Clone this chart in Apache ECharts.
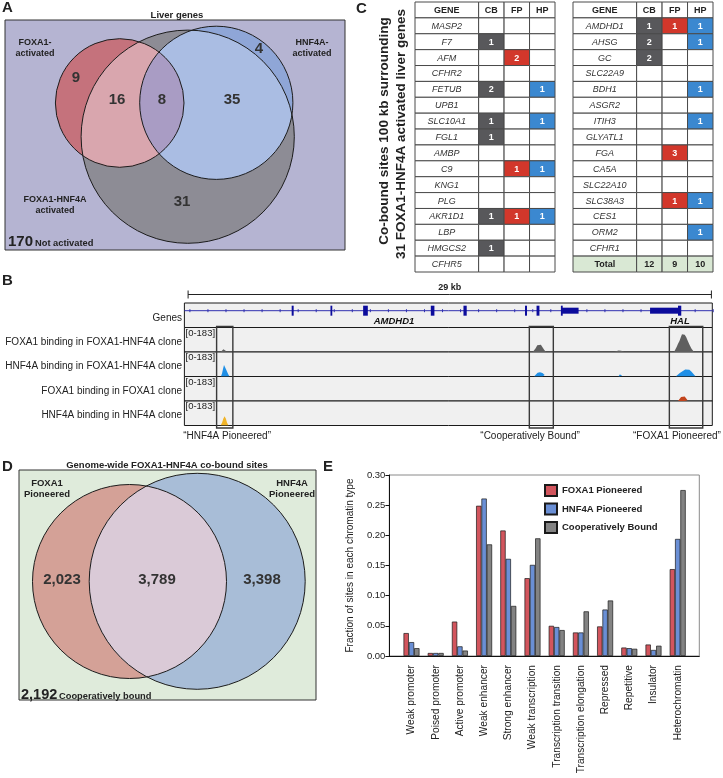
<!DOCTYPE html>
<html><head><meta charset="utf-8">
<script src="https://cdn.jsdelivr.net/npm/echarts@6/dist/echarts.min.js"></script>
<style>html,body{margin:0;padding:0;background:#fff}#c{width:723px;height:778px}</style>
</head><body><div id="c"></div>
<script>
// ================= DATA =================
// Panel A : liver genes Venn
const vennARegionNames = ['FOXA1 only', 'FOXA1 & FOXA1-HNF4A', 'all three', 'HNF4A & FOXA1-HNF4A', 'HNF4A only', 'FOXA1-HNF4A only'];
const vennACounts = [9, 16, 8, 35, 4, 31];
const vennANotActivated = 170;

// Panel C : co-bound sites tables
const tableHeader = ['GENE', 'CB', 'FP', 'HP'];
const genesLeft = ['MASP2','F7','AFM','CFHR2','FETUB','UPB1','SLC10A1','FGL1','AMBP','C9','KNG1','PLG','AKR1D1','LBP','HMGCS2','CFHR5'];
const cbLeft = [null,1,null,null,2,null,1,1,null,null,null,null,1,null,1,null];
const fpLeft = [null,null,2,null,null,null,null,null,null,1,null,null,1,null,null,null];
const hpLeft = [null,null,null,null,1,null,1,null,null,1,null,null,1,null,null,null];
const genesRight = ['AMDHD1','AHSG','GC','SLC22A9','BDH1','ASGR2','ITIH3','GLYATL1','FGA','CA5A','SLC22A10','SLC38A3','CES1','ORM2','CFHR1'];
const cbRight = [1,2,2,null,null,null,null,null,null,null,null,null,null,null,null];
const fpRight = [1,null,null,null,null,null,null,null,3,null,null,1,null,null,null];
const hpRight = [1,1,null,null,1,null,1,null,null,null,null,1,null,1,null];
const totalLabel = 'Total';
const totals = [12, 9, 10];

// Panel B : genome browser (kb)
const scaleBarKb = 29;
const trackRangeMax = 183;
const trackNames = ['FOXA1 binding in FOXA1-HNF4A clone','HNF4A binding in FOXA1-HNF4A clone','FOXA1 binding in FOXA1 clone','HNF4A binding in HNF4A clone'];
const geneExons = [[5.74,5.85],[7.89,7.99],[9.70,9.96],[13.45,13.65],[15.26,15.44],[18.67,18.78],[19.31,19.47],[20.66,20.74],[27.15,27.33]];
const geneUTRs = [[20.70,21.64],[25.60,27.15]];
const geneNames = ['AMDHD1','HAL'];
const geneNameKb = [11.41, 27.26];
const foxa1InCoClone = [[-0.2,0],[1.8,0],[1.88,8],[1.96,20],[2.04,14],[2.12,5],[2.2,0],[8.9,0],[9.0,4],[9.12,4],[9.22,0],[12.2,0],[12.3,3],[12.4,0],
  [19.1,0],[19.18,10],[19.26,28],[19.35,50],[19.45,61],[19.55,54],[19.64,36],[19.74,15],[19.84,0],[22.1,0],[22.2,3],[22.3,0],
  [23.6,0],[23.7,7],[23.85,12],[24.0,10],[24.1,5],[24.18,0],[26.0,0],[26.1,4],[26.2,0],
  [26.93,0],[27.0,12],[27.08,40],[27.15,62],[27.23,82],[27.3,108],[27.37,132],[27.44,142],[27.52,128],[27.6,112],[27.7,80],[27.8,50],[27.9,25],[28.04,0],[29.05,0]];
const hnf4aInCoClone = [[-0.2,0],[1.82,0],[1.88,22],[1.94,60],[1.99,85],[2.04,78],[2.1,55],[2.16,45],[2.23,15],[2.3,0],
  [19.17,0],[19.25,14],[19.37,28],[19.5,32],[19.64,26],[19.76,12],[19.84,0],[20.0,0],[20.06,8],[20.12,0],
  [23.85,0],[23.92,15],[23.98,20],[24.06,10],[24.14,0],[25.92,0],[25.98,8],[26.04,0],
  [27.02,0],[27.12,12],[27.25,26],[27.4,40],[27.55,52],[27.66,56],[27.78,50],[27.9,36],[28.02,16],[28.13,0],[29.05,0]];
const foxa1InFoxa1Clone = [[-0.2,0],[19.4,0],[19.46,4],[19.52,0],[27.15,0],[27.22,14],[27.32,30],[27.42,37],[27.52,33],[27.6,20],[27.68,5],[27.75,0],[29.05,0]];
const hnf4aInHnf4aClone = [[-0.2,0],[1.8,0],[1.88,20],[1.95,50],[2.02,69],[2.09,52],[2.16,20],[2.24,0],[23.9,0],[23.97,5],[24.04,0],[29.05,0]];
const regionNames = ['\u201CHNF4A Pioneered\u201D', '\u201CCooperatively Bound\u201D', '\u201CFOXA1 Pioneered\u201D'];
const regionStartKb = [1.58, 18.91, 26.67];
const regionEndKb = [2.48, 20.24, 28.52];
const regionLabelKb = [2.16, 18.95, 27.09];

// Panel D : genome-wide Venn
const vennDCounts = [2023, 3789, 3398];
const vennDOutside = 2192;

// Panel E : chromatin types
const chromatinTypes = ['Weak promoter','Poised promoter','Active promoter','Weak enhancer','Strong enhancer','Weak transcription','Transcription transition','Transcription elongation','Repressed','Repetitive','Insulator','Heterochromatin'];
const foxa1Pioneered = [0.038, 0.005, 0.057, 0.249, 0.208, 0.129, 0.050, 0.039, 0.049, 0.014, 0.019, 0.144];
const hnf4aPioneered = [0.023, 0.005, 0.016, 0.261, 0.161, 0.151, 0.048, 0.039, 0.077, 0.013, 0.010, 0.194];
const coopBound      = [0.013, 0.005, 0.009, 0.185, 0.083, 0.195, 0.043, 0.074, 0.092, 0.012, 0.017, 0.275];
const yTicks = [0, 0.05, 0.10, 0.15, 0.20, 0.25, 0.30];

// ================= LAYOUT / STYLE =================
const FONT = '"Liberation Sans", Arial, Helvetica, sans-serif';
const fnt = s => s + ' ' + FONT;
const KB_MIN = -0.205, KB_MAX = 29.05;
const vennALayout = {
  circles: [{cx:114.7, cy:83, r:64.3}, {cx:211.3, cy:82.8, r:76.6}, {cx:182.7, cy:116.7, r:106.6}],
  labels: [[71,58],[112,80],[157,80],[227,80],[254,29],[177,182]]
};
const vennDLayout = {
  circles: [{cx:110.5, cy:111.5, r:97}, {cx:178.2, cy:111.3, r:108}],
  labels: [[43,110],[138,110],[243,110]]
};
const COLS = [0, 2.5, 3.5, 4.5, 5.5];
const cellFill = {header:'#ffffff', gene:'#ffffff', empty:'#ffffff', cb:'#58585b', fp:'#d2372b', hp:'#3b88d0', total:'#d9e8d4'};
const trackColors = ['#5f5f5f','#1f8fe6','#c2441c','#f0b429'];

function arcPoints(cx, cy, r, t0, t1, through, n) {
  const TWO = Math.PI * 2;
  const norm = a => ((a % TWO) + TWO) % TWO;
  let delta = norm(t1 - t0);
  if (norm(through - t0) > delta) delta = delta - TWO;
  const pts = [];
  for (let i = 0; i <= n; i++) { const a = t0 + delta * i / n; pts.push([cx + r * Math.cos(a), cy + r * Math.sin(a)]); }
  return pts;
}
function lensPoints(c1, c2) {
  const dx = c2.x - c1.x, dy = c2.y - c1.y, d = Math.hypot(dx, dy);
  const a = (c1.r * c1.r - c2.r * c2.r + d * d) / (2 * d);
  const h = Math.sqrt(Math.max(0, c1.r * c1.r - a * a));
  const px = c1.x + a * dx / d, py = c1.y + a * dy / d;
  const i1 = [px - h * dy / d, py + h * dx / d], i2 = [px + h * dy / d, py - h * dx / d];
  const ang = (c, p) => Math.atan2(p[1] - c.y, p[0] - c.x);
  const arc1 = arcPoints(c1.x, c1.y, c1.r, ang(c1, i1), ang(c1, i2), Math.atan2(dy, dx), 90);
  const arc2 = arcPoints(c2.x, c2.y, c2.r, ang(c2, i2), ang(c2, i1), Math.atan2(-dy, -dx), 90);
  return arc1.concat(arc2);
}
function circlePx(api, c) {
  const p = api.coord([c.cx, c.cy]);
  const s = api.size([c.r, c.r]);
  return {x: p[0], y: p[1], r: s[0]};
}
function circ(c, fill, stroke) {
  return {type:'circle', shape:{cx:c.x, cy:c.y, r:c.r}, style: stroke ? {fill:'none', stroke:'#1c1c1c', lineWidth:1} : {fill}};
}
// break the signal line wherever it sits on the baseline, so only peaks are filled
function gapped(d) {
  const out = [];
  for (let i = 0; i < d.length; i++) {
    out.push(d[i]);
    if (i < d.length - 1 && d[i][1] === 0 && d[i + 1][1] === 0) out.push([d[i][0], '-']);
  }
  return out;
}

// ---- grids & axes
const grids = [], xAxes = [], yAxes = [];
function addGrid(g, x, y) {
  const gi = grids.length;
  grids.push(Object.assign({containLabel:false, outerBoundsMode:'none', show:false}, g));
  xAxes.push(Object.assign({gridIndex:gi, type:'value', show:false}, x));
  yAxes.push(Object.assign({gridIndex:gi, type:'value', show:false}, y));
  return gi;
}
const gA = addGrid({left:5, top:20, width:340, height:230, show:true, backgroundColor:'#b5b4d2', borderColor:'#333', borderWidth:1},
  {min:0, max:340}, {min:0, max:230, inverse:true});
const gT1 = addGrid({left:415, top:2, width:140, height:270}, {min:0, max:5.5}, {min:0, max:17, inverse:true});
const gT2 = addGrid({left:573, top:2, width:140, height:270}, {min:0, max:5.5}, {min:0, max:17, inverse:true});
const gScale = addGrid({left:184.4, top:287, width:527.9, height:12}, {min:KB_MIN, max:KB_MAX}, {min:0, max:1});
const gGene = addGrid({left:184.4, top:303, width:527.9, height:24.5, show:true, backgroundColor:'#f0f0f0', borderColor:'#1a1a1a', borderWidth:1},
  {min:KB_MIN, max:KB_MAX}, {min:0, max:1});
const trackTops = [327.5, 352, 376.5, 401];
const gTracks = trackTops.map(t => addGrid({left:184.4, top:t, width:527.9, height:24.5, show:true, backgroundColor:'#f0f0f0', borderColor:'#1a1a1a', borderWidth:1},
  {min:KB_MIN, max:KB_MAX}, {min:0, max:trackRangeMax}));
const gBoxes = addGrid({left:184.4, top:326.5, width:527.9, height:101.5}, {min:KB_MIN, max:KB_MAX}, {min:0, max:1});
const gD = addGrid({left:19, top:470, width:297, height:230, show:true, backgroundColor:'#dfebdb', borderColor:'#333', borderWidth:1},
  {min:0, max:297}, {min:0, max:230, inverse:true});
const gFrame = addGrid({left:389.3, top:475, width:310, height:181, show:true, borderColor:'#8a8a8a', borderWidth:1},
  {show:true, min:0, max:1, axisLine:{show:true, onZero:false, lineStyle:{color:'#111', width:1}}, axisTick:{show:false}, axisLabel:{show:false}, splitLine:{show:false}},
  {show:true, min:0, max:1, axisLine:{show:true, onZero:false, lineStyle:{color:'#111', width:1}}, axisTick:{show:false}, axisLabel:{show:false}, splitLine:{show:false}});
const gE = addGrid({left:399.4, top:475, width:290.4, height:181},
  {show:true, type:'category', data:chromatinTypes, axisLine:{show:false}, axisTick:{show:false},
    axisLabel:{interval:0, rotate:90, margin:9, fontSize:10.2, color:'#222', fontFamily:FONT}},
  {show:true, min:yTicks[0], max:yTicks[yTicks.length-1], interval:0.05, offset:10,
    axisLine:{show:false}, axisTick:{show:true, length:4, lineStyle:{color:'#111'}}, splitLine:{show:false},
    axisLabel:{formatter:v => v.toFixed(2), fontSize:9.5, color:'#222', margin:4, fontFamily:FONT},
    name:'Fraction of sites in each chromatin type', nameLocation:'middle', nameGap:34, nameRotate:90,
    nameTextStyle:{fontSize:10, color:'#222', fontFamily:FONT}});

// ---- table data
function buildTable(genes, cb, fp, hp, withTotal) {
  const d = [];
  tableHeader.forEach((h, c) => d.push({value:[c, 0], text:h, kind:'header'}));
  genes.forEach((g, i) => {
    d.push({value:[0, i + 1], text:g, kind:'gene'});
    [cb, fp, hp].forEach((arr, k) => d.push({value:[k + 1, i + 1], text: arr[i] == null ? '' : String(arr[i]), kind: arr[i] == null ? 'empty' : ['cb','fp','hp'][k]}));
  });
  if (withTotal) {
    const r = genes.length + 1;
    d.push({value:[0, r], text:totalLabel, kind:'total'});
    totals.forEach((v, k) => d.push({value:[k + 1, r], text:String(v), kind:'total'}));
  }
  return d;
}
function tableRender(data) {
  return function (params, api) {
    const it = data[params.dataIndex];
    const c = it.value[0], r = it.value[1];
    const p0 = api.coord([COLS[c], r]), p1 = api.coord([COLS[c + 1], r + 1]);
    const x = Math.min(p0[0], p1[0]), y = Math.min(p0[1], p1[1]);
    const w = Math.abs(p1[0] - p0[0]), h = Math.abs(p1[1] - p0[1]);
    let font = fnt('bold 9px'), fill = '#222';
    if (it.kind === 'gene') { font = fnt('italic 9px'); fill = '#333'; }
    else if (it.kind === 'cb' || it.kind === 'fp' || it.kind === 'hp') { fill = '#fff'; }
    return {type:'group', children:[
      {type:'rect', shape:{x, y, width:w, height:h}, style:{fill:cellFill[it.kind], stroke:'#4a4a4a', lineWidth:1}},
      {type:'text', style:{text:it.text, x:x + w / 2, y:y + h / 2 + 0.5, textAlign:'center', textVerticalAlign:'middle', verticalAlign:'middle', font, fill}}
    ]};
  };
}
const tLeft = buildTable(genesLeft, cbLeft, fpLeft, hpLeft, false);
const tRight = buildTable(genesRight, cbRight, fpRight, hpRight, true);

// ---- graphic texts
function T(text, x, y, font, o) {
  o = o || {};
  return {type:'text', x, y, rotation:o.rot || 0, silent:true, z:100,
    style:{text, font:fnt(font), fill:o.fill || '#222', textAlign:o.align || 'center', textVerticalAlign:'middle', verticalAlign:'middle', lineHeight:o.lh || 12}};
}
const texts = [
  T('A', 2, 8, 'bold 15px', {align:'left'}),
  T('B', 2, 281, 'bold 15px', {align:'left'}),
  T('C', 356, 9, 'bold 15px', {align:'left'}),
  T('D', 2, 467, 'bold 15px', {align:'left'}),
  T('E', 323, 467, 'bold 15px', {align:'left'}),
  T('Liver genes', 177, 15, 'bold 9.5px'),
  T('FOXA1-\nactivated', 35, 48.5, 'bold 9px', {lh:11}),
  T('HNF4A-\nactivated', 312, 48.5, 'bold 9px', {lh:11}),
  T('FOXA1-HNF4A\nactivated', 55, 205, 'bold 9px', {lh:11}),
  T(String(vennANotActivated), 8, 242, 'bold 15px', {align:'left'}),
  T('Not activated', 35, 243.5, 'bold 9.3px', {align:'left'}),
  T('Co-bound sites 100 kb surrounding', 384, 131, 'bold 13.5px', {rot:Math.PI / 2}),
  T('31 FOXA1-HNF4A activated liver genes', 401, 134, 'bold 13.5px', {rot:Math.PI / 2}),
  T('Genes', 182, 318.3, '10px', {align:'right'}),
  T('Genome-wide FOXA1-HNF4A co-bound sites', 167, 465, 'bold 9.5px'),
  T('FOXA1\nPioneered', 47, 488.5, 'bold 9.5px', {lh:11}),
  T('HNF4A\nPioneered', 292, 488.5, 'bold 9.5px', {lh:11}),
  T(vennDOutside.toLocaleString('en-US'), 21, 694.5, 'bold 14.5px', {align:'left'}),
  T('Cooperatively bound', 59, 696, 'bold 9.3px', {align:'left'})
];
const labelYs = [342.7, 366.7, 391, 415];
trackNames.forEach((n, i) => {
  texts.push(T(n, 182, labelYs[i], '10px', {align:'right'}));
  texts.push(T('[0-' + trackRangeMax + ']', 185.5, trackTops[i] + 5.5, '9.5px', {align:'left'}));
});

// ---- series
const series = [];
series.push({type:'custom', name:'vennA', xAxisIndex:gA, yAxisIndex:gA, silent:true, data:[[0, 0]],
  renderItem: (params, api) => {
    const [R, B, G] = vennALayout.circles.map(c => circlePx(api, c));
    return {type:'group', children:[
      circ(G, '#8d8c95'), circ(R, '#c5727c'), circ(B, '#8fa6d7'),
      {type:'polygon', shape:{points:lensPoints(R, G)}, style:{fill:'#d9a6ae'}},
      {type:'polygon', shape:{points:lensPoints(B, G)}, style:{fill:'#aabde3'}},
      {type:'polygon', shape:{points:lensPoints(R, B)}, style:{fill:'#a99cc4'}},
      circ(G, null, true), circ(R, null, true), circ(B, null, true)
    ]};
  }});
series.push({type:'custom', name:'vennA-labels', xAxisIndex:gA, yAxisIndex:gA, silent:true,
  data: vennACounts.map((v, i) => [vennALayout.labels[i][0], vennALayout.labels[i][1], v]),
  renderItem: (params, api) => {
    const p = api.coord([api.value(0), api.value(1)]);
    return {type:'text', style:{text:String(api.value(2)), x:p[0], y:p[1], textAlign:'center', textVerticalAlign:'middle', verticalAlign:'middle', font:fnt('bold 15px'), fill:'#333'}};
  }});
series.push({type:'custom', name:'tableLeft', xAxisIndex:gT1, yAxisIndex:gT1, silent:true, data:tLeft, renderItem:tableRender(tLeft)});
series.push({type:'custom', name:'tableRight', xAxisIndex:gT2, yAxisIndex:gT2, silent:true, data:tRight, renderItem:tableRender(tRight)});
series.push({type:'custom', name:'scaleBar', xAxisIndex:gScale, yAxisIndex:gScale, silent:true, data:[[0, scaleBarKb]],
  renderItem: (params, api) => {
    const a = api.coord([api.value(0), 0.5]), b = api.coord([api.value(1), 0.5]);
    const y = Math.round(b[1] + 0.5) - 0.5 + 1;
    return {type:'group', children:[
      {type:'line', shape:{x1:a[0], y1:y, x2:b[0], y2:y}, style:{stroke:'#222', lineWidth:1}},
      {type:'line', shape:{x1:a[0], y1:y - 4, x2:a[0], y2:y + 4}, style:{stroke:'#222', lineWidth:1}},
      {type:'line', shape:{x1:b[0], y1:y - 4, x2:b[0], y2:y + 4}, style:{stroke:'#222', lineWidth:1}},
      {type:'text', style:{text:api.value(1) + ' kb', x:(a[0] + b[0]) / 2, y:y - 7, textAlign:'center', textVerticalAlign:'middle', verticalAlign:'middle', font:fnt('bold 9px'), fill:'#222'}}
    ]};
  }});
const GENE_Y = 0.686;
series.push({type:'custom', name:'geneBody', xAxisIndex:gGene, yAxisIndex:gGene, silent:true, data:[[KB_MIN, KB_MAX]],
  renderItem: (params, api) => {
    const a = api.coord([api.value(0), GENE_Y]), b = api.coord([api.value(1), GENE_Y]);
    const ch = [{type:'line', shape:{x1:a[0], y1:a[1], x2:b[0], y2:b[1]}, style:{stroke:'#3030b0', lineWidth:1}}];
    for (let k = 0; k <= 29; k++) {
      const p = api.coord([k + 0.1, GENE_Y]);
      ch.push({type:'line', shape:{x1:p[0], y1:p[1] - 1.5, x2:p[0], y2:p[1] + 1.5}, style:{stroke:'#3030b0', lineWidth:1}});
    }
    return {type:'group', children:ch};
  }});
const geneBlocks = geneExons.map(e => ({value:[e[0], e[1]], h:10})).concat(geneUTRs.map(e => ({value:[e[0], e[1]], h:6})));
series.push({type:'custom', name:'geneBlocks', xAxisIndex:gGene, yAxisIndex:gGene, silent:true, data:geneBlocks,
  renderItem: (params, api) => {
    const it = geneBlocks[params.dataIndex];
    const a = api.coord([api.value(0), GENE_Y]), b = api.coord([api.value(1), GENE_Y]);
    const w = Math.max(1.8, b[0] - a[0]);
    return {type:'rect', shape:{x:a[0], y:a[1] - it.h / 2, width:w, height:it.h}, style:{fill:'#0c0c9c'}};
  }});
series.push({type:'custom', name:'geneNames', xAxisIndex:gGene, yAxisIndex:gGene, silent:true, data:geneNameKb.map(k => [k, 0.26]),
  renderItem: (params, api) => {
    const p = api.coord([api.value(0), api.value(1)]);
    return {type:'text', style:{text:geneNames[params.dataIndex], x:p[0], y:p[1], textAlign:'center', textVerticalAlign:'middle', verticalAlign:'middle', font:fnt('bold italic 9.5px'), fill:'#111'}};
  }});
[foxa1InCoClone, hnf4aInCoClone, foxa1InFoxa1Clone, hnf4aInHnf4aClone].forEach((d, i) => {
  series.push({type:'line', name:trackNames[i], xAxisIndex:gTracks[i], yAxisIndex:gTracks[i], data:gapped(d), showSymbol:false, symbol:'none', silent:true,
    connectNulls:false, smooth:false, lineStyle:{color:trackColors[i], width:0}, areaStyle:{color:trackColors[i], opacity:1}});
});
series.push({type:'custom', name:'regions', xAxisIndex:gBoxes, yAxisIndex:gBoxes, silent:true, z:10,
  data: regionStartKb.map((s, i) => [s, regionEndKb[i], regionLabelKb[i]]),
  renderItem: (params, api) => {
    const a = api.coord([api.value(0), 1]), b = api.coord([api.value(1), 0]), l = api.coord([api.value(2), 0]);
    return {type:'group', children:[
      {type:'rect', shape:{x:a[0], y:a[1], width:b[0] - a[0], height:b[1] - a[1]}, style:{fill:'none', stroke:'#3a3a3a', lineWidth:1.4}},
      {type:'text', style:{text:regionNames[params.dataIndex], x:l[0], y:b[1] + 8.5, textAlign:'center', textVerticalAlign:'middle', verticalAlign:'middle', font:fnt('10px'), fill:'#222'}}
    ]};
  }});
series.push({type:'custom', name:'vennD', xAxisIndex:gD, yAxisIndex:gD, silent:true, data:[[0, 0]],
  renderItem: (params, api) => {
    const [R, B] = vennDLayout.circles.map(c => circlePx(api, c));
    return {type:'group', children:[
      circ(R, '#d4a197'), circ(B, '#a8bdd7'),
      {type:'polygon', shape:{points:lensPoints(R, B)}, style:{fill:'#dacad7'}},
      circ(R, null, true), circ(B, null, true)
    ]};
  }});
series.push({type:'custom', name:'vennD-labels', xAxisIndex:gD, yAxisIndex:gD, silent:true,
  data: vennDCounts.map((v, i) => [vennDLayout.labels[i][0], vennDLayout.labels[i][1], v]),
  renderItem: (params, api) => {
    const p = api.coord([api.value(0), api.value(1)]);
    return {type:'text', style:{text:api.value(2).toLocaleString('en-US'), x:p[0], y:p[1], textAlign:'center', textVerticalAlign:'middle', verticalAlign:'middle', font:fnt('bold 15px'), fill:'#333'}};
  }});
const barStyle = c => ({color:c, borderColor:'#1a1a1a', borderWidth:0.7});
[['FOXA1 Pioneered', foxa1Pioneered, '#d2555d'], ['HNF4A Pioneered', hnf4aPioneered, '#6a8fd5'], ['Cooperatively Bound', coopBound, '#838383']].forEach(s => {
  series.push({type:'bar', name:s[0], xAxisIndex:gE, yAxisIndex:gE, data:s[1], barGap:'0%', barCategoryGap:'34%', itemStyle:barStyle(s[2]), silent:true});
});

const chart = echarts.init(document.getElementById('c'), null, {renderer:'canvas'});
chart.setOption({
  animation:false,
  backgroundColor:'#ffffff',
  textStyle:{fontFamily:FONT},
  grid:grids, xAxis:xAxes, yAxis:yAxes,
  legend:{data:['FOXA1 Pioneered','HNF4A Pioneered','Cooperatively Bound'], orient:'vertical', left:539, top:479,
    itemWidth:12, itemHeight:11, itemGap:5.5, icon:'rect', selectedMode:false,
    textStyle:{fontSize:9.5, fontWeight:'bold', color:'#222', fontFamily:FONT}},
  tooltip:{show:false},
  graphic:{elements:texts},
  series
});
</script></body></html>
